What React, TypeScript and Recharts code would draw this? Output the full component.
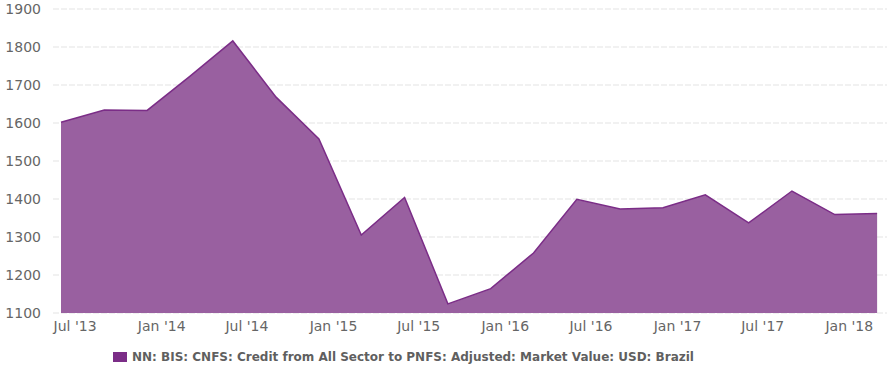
import React from "react";
import { AreaChart, Area, XAxis, YAxis, CartesianGrid, Legend } from "recharts";

// quarterly observations, plotted on the 1st of Jun / Sep / Dec / Mar
const dates = [
  "2013-06-01", "2013-09-01", "2013-12-01", "2014-03-01", "2014-06-01",
  "2014-09-01", "2014-12-01", "2015-03-01", "2015-06-01", "2015-09-01",
  "2015-12-01", "2016-03-01", "2016-06-01", "2016-09-01", "2016-12-01",
  "2017-03-01", "2017-06-01", "2017-09-01", "2017-12-01", "2018-03-01",
];
const values = [
  1602, 1634, 1633, 1722, 1816, 1668, 1558, 1305, 1404, 1124,
  1164, 1258, 1399, 1374, 1377, 1411, 1337, 1421, 1359, 1362,
];
const tickDates = [
  "2013-07-01", "2014-01-01", "2014-07-01", "2015-01-01", "2015-07-01",
  "2016-01-01", "2016-07-01", "2017-01-01", "2017-07-01", "2018-01-01",
];
const yTicks = [1100, 1200, 1300, 1400, 1500, 1600, 1700, 1800, 1900];
const seriesName =
  "NN: BIS: CNFS: Credit from All Sector to PNFS: Adjusted: Market Value: USD: Brazil";

const DAY = 86400000;
const ts = (d: string) => new Date(d + "T00:00:00Z").getTime();
const data = dates.map((d, i) => ({ t: ts(d), v: values[i] }));
const xTicks = tickDates.map(ts);

const fmtTick = (t: number) => {
  const d = new Date(t);
  const m = d.getUTCMonth() === 0 ? "Jan" : "Jul";
  return `${m} '${String(d.getUTCFullYear()).slice(2)}`;
};

const FONT = "'DejaVu Sans', sans-serif";

const renderLegend = () => (
  <div
    style={{
      height: 27,
      display: "flex",
      alignItems: "center",
      paddingLeft: 113,
      fontFamily: FONT,
      fontSize: 12,
      fontWeight: "bold",
      color: "#5f5f5f",
    }}
  >
    <span
      style={{
        display: "inline-block",
        width: 14,
        height: 10,
        background: "#7B2D87",
        marginRight: 5,
      }}
    />
    {seriesName}
  </div>
);

export default function App() {
  return (
    <div style={{ width: 887, height: 370, position: "absolute", left: 0, top: 0, background: "#fff" }}>
      <AreaChart
        width={887}
        height={370}
        data={data}
        margin={{ top: 9, right: 0, bottom: 0, left: 0 }}
      >
        <CartesianGrid
          horizontal={true}
          vertical={false}
          stroke="#e3e3e3"
          strokeDasharray="6 2"
        />
        <XAxis
          dataKey="t"
          type="number"
          scale="time"
          domain={[data[0].t - 17 * DAY, data[data.length - 1].t + 21 * DAY]}
          ticks={xTicks}
          tickFormatter={fmtTick}
          axisLine={false}
          tickLine={false}
          tickSize={8}
          tickMargin={0}
          height={30}
          interval={0}
          tick={{ fill: "#666", fontSize: 14, fontFamily: FONT }}
        />
        <YAxis
          domain={[1100, 1900]}
          ticks={yTicks}
          interval={0}
          axisLine={false}
          tickLine={false}
          width={53}
          tickSize={6}
          tickMargin={6}
          tick={{ fill: "#666", fontSize: 14, fontFamily: FONT }}
        />
        <Legend verticalAlign="bottom" content={renderLegend} />
        <Area
          type="linear"
          dataKey="v"
          name={seriesName}
          stroke="#7B2D87"
          strokeWidth={1.5}
          fill="#9960A0"
          fillOpacity={1}
          baseValue={1100}
          dot={false}
          activeDot={false}
          isAnimationActive={false}
        />
      </AreaChart>
    </div>
  );
}
